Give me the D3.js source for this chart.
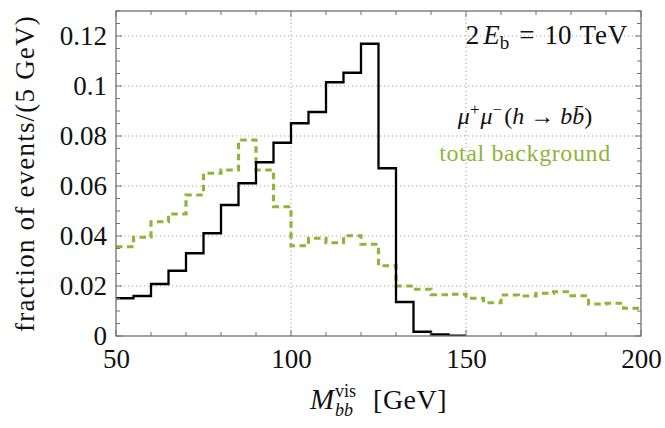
<!DOCTYPE html>
<html>
<head>
<meta charset="utf-8">
<script src="https://cdn.jsdelivr.net/npm/d3@7"></script>
<style>
  body { margin: 0; background: #fff; }
  svg { display: block; }
</style>
</head>
<body>
<div id="chart"></div>
<script>
// bin lower edges (5 GeV bins)
var signalBins = [50, 55, 60, 65, 70, 75, 80, 85, 90, 95, 100, 105, 110, 115, 120, 125, 130, 135, 140, 145];
var signalValues = [0.0151, 0.0160, 0.0208, 0.0261, 0.0331, 0.0411, 0.0524, 0.0611, 0.0695, 0.0773,
                    0.0851, 0.0896, 0.1015, 0.1053, 0.1169, 0.0671, 0.0136, 0.0017, 0.0006, 0.0001];
var bkgBins = [50, 55, 60, 65, 70, 75, 80, 85, 90, 95, 100, 105, 110, 115, 120, 125, 130, 135, 140, 145,
               150, 155, 160, 165, 170, 175, 180, 185, 190, 195];
var bkgValues = [0.0357, 0.0395, 0.0457, 0.0488, 0.0564, 0.0651, 0.0664, 0.0784, 0.0664, 0.0517,
                 0.0361, 0.0391, 0.0373, 0.0401, 0.0367, 0.0281, 0.0200, 0.0187, 0.0165, 0.0167,
                 0.0151, 0.0133, 0.0164, 0.0160, 0.0171, 0.0177, 0.0161, 0.0128, 0.0131, 0.0111];
var binWidth = 5;
var xTicks = [50, 100, 150, 200];
var yTicks = [0, 0.02, 0.04, 0.06, 0.08, 0.1, 0.12];
var xGrid = [100, 150];

var width = 665, height = 428;
var margin = {top: 11, right: 24, bottom: 92, left: 116};
var green = '#8fb43a';
var frameColor = '#707070';
var serif = '"Liberation Serif", Tinos, "Times New Roman", "DejaVu Serif", "Noto Serif", serif';

var svg = d3.select('#chart').append('svg')
    .attr('width', width)
    .attr('height', height)
    .attr('font-family', serif);

var x = d3.scaleLinear().domain([50, 200]).range([margin.left, width - margin.right]);
var y = d3.scaleLinear().domain([0, 0.13]).range([height - margin.bottom, margin.top]);

// grid lines
var grid = svg.append('g').attr('class', 'grid')
    .attr('stroke', '#a8a8a8').attr('stroke-width', 1.1).attr('stroke-dasharray', '1.2,2.8');
grid.selectAll('line.gx').data(xGrid).enter().append('line')
    .attr('x1', function(d) { return x(d); }).attr('x2', function(d) { return x(d); })
    .attr('y1', y(0)).attr('y2', y(0.13));
grid.selectAll('line.gy').data(yTicks.slice(1)).enter().append('line')
    .attr('y1', function(d) { return y(d); }).attr('y2', function(d) { return y(d); })
    .attr('x1', x(50)).attr('x2', x(200));

svg.append('clipPath').attr('id', 'clip').append('rect')
    .attr('x', x(50)).attr('y', y(0.13))
    .attr('width', x(200) - x(50)).attr('height', y(0) - y(0.13));

function stepPoints(bins, vals) {
    var pts = bins.map(function(b, i) { return [b, vals[i]]; });
    pts.push([bins[bins.length - 1] + binWidth, vals[vals.length - 1]]);
    return pts;
}

var line = d3.line()
    .x(function(d) { return x(d[0]); })
    .y(function(d) { return y(d[1]); })
    .curve(d3.curveStepAfter);

var plot = svg.append('g').attr('clip-path', 'url(#clip)');

plot.append('path')
    .datum(stepPoints(bkgBins, bkgValues))
    .attr('fill', 'none')
    .attr('stroke', green)
    .attr('stroke-width', 3.2)
    .attr('stroke-dasharray', '6.5,4.5')
    .attr('d', line);

plot.append('path')
    .datum(stepPoints(signalBins, signalValues))
    .attr('fill', 'none')
    .attr('stroke', '#000')
    .attr('stroke-width', 2.3)
    .attr('stroke-linejoin', 'miter')
    .attr('d', line);

// frame with inward ticks
var xMinor = d3.range(50, 201, 10);
var yMinor = d3.range(0, 0.1301, 0.005);

function tickLen(isMajor) { return isMajor ? 6 : 4; }
var ticks = svg.append('g').attr('stroke', frameColor).attr('stroke-width', 1);
xMinor.forEach(function(v) {
    var L = tickLen(v % 50 === 0);
    ticks.append('line').attr('x1', x(v)).attr('x2', x(v)).attr('y1', y(0)).attr('y2', y(0) - L);
    ticks.append('line').attr('x1', x(v)).attr('x2', x(v)).attr('y1', y(0.13)).attr('y2', y(0.13) + L);
});
yMinor.forEach(function(v) {
    var L = tickLen(Math.abs(v / 0.02 - Math.round(v / 0.02)) < 1e-6);
    ticks.append('line').attr('y1', y(v)).attr('y2', y(v)).attr('x1', x(50)).attr('x2', x(50) + L);
    ticks.append('line').attr('y1', y(v)).attr('y2', y(v)).attr('x1', x(200)).attr('x2', x(200) - L);
});

svg.append('rect')
    .attr('x', x(50)).attr('y', y(0.13))
    .attr('width', x(200) - x(50)).attr('height', y(0) - y(0.13))
    .attr('fill', 'none').attr('stroke', frameColor).attr('stroke-width', 1.3);

// tick labels
var fmt = d3.format('~g');
var xAxis = d3.axisBottom(x).tickValues(xTicks).tickSize(0).tickPadding(0).tickFormat(fmt);
var gx = svg.append('g').attr('transform', 'translate(0,' + y(0) + ')').call(xAxis)
    .attr('font-family', serif).attr('font-size', 27);
gx.select('.domain').remove();
gx.selectAll('text').attr('fill', '#111').attr('dy', null).attr('y', 32);

var yAxis = d3.axisLeft(y).tickValues(yTicks).tickSize(0).tickPadding(0).tickFormat(fmt);
var gy = svg.append('g').attr('transform', 'translate(' + (x(50) - 9) + ',0)').call(yAxis)
    .attr('font-family', serif).attr('font-size', 27);
gy.select('.domain').remove();
gy.selectAll('text').attr('fill', '#111').attr('dy', '0.33em');

// y label
svg.append('text')
    .attr('transform', 'translate(34,' + ((y(0) + y(0.13)) / 2) + ') rotate(-90)')
    .attr('text-anchor', 'middle')
    .attr('font-size', 27)
    .attr('letter-spacing', 1.2)
    .attr('fill', '#111')
    .text('fraction of events/(5 GeV)');

// x label: M_bb^vis [GeV]
var xl = svg.append('g');
var m = xl.append('text').attr('x', 0).attr('y', 0).attr('font-size', 29)
    .attr('font-style', 'italic').attr('fill', '#111').text('M');
var mw = m.node().getComputedTextLength();
var sup = xl.append('text').attr('x', mw + 1).attr('y', -12).attr('font-size', 18)
    .attr('fill', '#111').text('vis');
var sub = xl.append('text').attr('x', mw + 1).attr('y', 7).attr('font-size', 18)
    .attr('font-style', 'italic').attr('fill', '#111').text('bb');
var sw = Math.max(sup.node().getComputedTextLength(), sub.node().getComputedTextLength());
var gev = xl.append('text').attr('x', mw + 1 + sw + 17).attr('y', 0).attr('font-size', 28)
    .attr('letter-spacing', 0.5).attr('fill', '#111').text('[GeV]');
var totalW = mw + 1 + sw + 17 + gev.node().getComputedTextLength();
xl.attr('transform', 'translate(' + ((x(50) + x(200)) / 2 - totalW / 2) + ',409)');

// label 2E_b = 10 TeV
var t1 = svg.append('text').attr('x', 628).attr('y', 44).attr('text-anchor', 'end')
    .attr('font-size', 27).attr('fill', '#111');
t1.append('tspan').text('2');
t1.append('tspan').attr('font-style', 'italic').attr('dx', 4).text('E');
t1.append('tspan').attr('font-size', 19).attr('dy', 5).text('b');
t1.append('tspan').attr('dy', -5).attr('dx', 10).text('=');
t1.append('tspan').attr('dx', 10).text('10');
t1.append('tspan').attr('dx', 8).attr('letter-spacing', 0.8).text('TeV');

// legend
var t2 = svg.append('text').attr('x', 525).attr('y', 124).attr('text-anchor', 'middle')
    .attr('font-size', 24).attr('fill', '#111');
t2.append('tspan').attr('font-style', 'italic').text('\u03bc');
t2.append('tspan').attr('font-size', 17).attr('dy', -9).text('+');
t2.append('tspan').attr('font-style', 'italic').attr('dy', 9).attr('dx', 1).text('\u03bc');
t2.append('tspan').attr('font-size', 17).attr('dy', -9).text('\u2212');
t2.append('tspan').attr('dy', 9).attr('dx', 2).text('(');
t2.append('tspan').attr('font-style', 'italic').text('h');
t2.append('tspan').attr('dx', 6).text('\u2192');
t2.append('tspan').attr('dx', 6).attr('font-style', 'italic').text('b');
t2.append('tspan').attr('font-style', 'italic').text('b\u0304');
t2.append('tspan').text(')');

svg.append('text').attr('x', 525).attr('y', 161).attr('text-anchor', 'middle')
    .attr('font-size', 24).attr('fill', green).attr('letter-spacing', 0.6)
    .text('total background');
</script>
</body>
</html>
